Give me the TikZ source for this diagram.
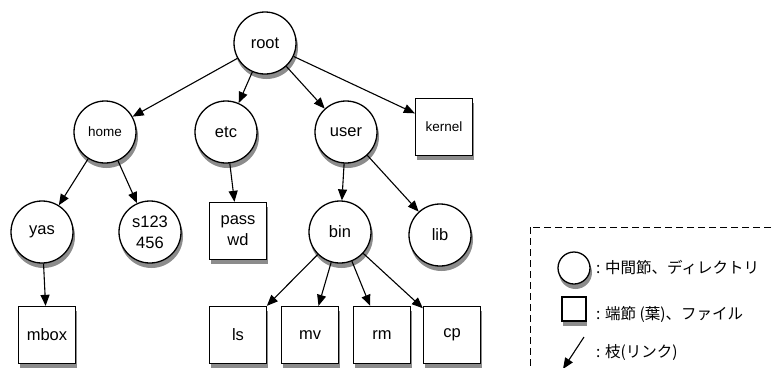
\documentclass[tikz,border=0pt]{standalone}
\usepackage{fontspec}
\setmainfont{Liberation Sans}
\newfontfamily\jpfont{Noto Sans CJK JP}
\usetikzlibrary{arrows.meta, backgrounds}

\tikzset{
  dirnode/.style={circle, draw, line width=1.3pt, fill=white, minimum size=62pt,
    inner sep=0pt, align=center, font=\fontsize{16.5}{21}\selectfont},
  filenode/.style={rectangle, draw, line width=1.3pt, fill=white, minimum size=57pt,
    inner sep=0pt, align=center, font=\fontsize{16.5}{21}\selectfont},
  smalltext/.style={font=\fontsize{13.5}{16}\selectfont},
  shadowfill/.style={fill=black!45, draw=none},
  link/.style={-{Triangle[length=11pt,width=9pt]}, line width=1.1pt},
  legendtext/.style={anchor=west, inner sep=0pt, font=\jpfont\fontsize{15.5}{18}\selectfont},
}

\begin{document}
\begin{tikzpicture}[x=1pt, y=-1pt]
  \useasboundingbox (0,0) rectangle (775,367);

  % shadows first, so the nodes cover them
  \foreach \x/\y in {265/43, 105/132, 226/132, 346/132, 42/232, 150/232, 340/232, 440/235}
    \fill[shadowfill] (\x+1.5,\y+4.5) circle (31.5pt);
  \fill[shadowfill] (575.5,272.5) circle (16.5pt);
  \foreach \x/\y in {444/127, 238/231, 47/335, 238/335, 310/335, 382/335, 452/335}
    \fill[shadowfill] (\x-27,\y-24) rectangle (\x+30,\y+33);
  \fill[shadowfill] (563,298) rectangle (587,326);

  % directories
  \node[dirnode] (root) at (265,43) {root};
  \node[dirnode, smalltext] (home) at (105,132) {home};
  \node[dirnode] (etc)  at (226,132) {etc};
  \node[dirnode] (user) at (346,132) {user};
  \node[dirnode] (yas)  at (42,232) {yas};
  \node[dirnode] (s123) at (150,232) {s123\\456};
  \node[dirnode] (bin)  at (340,232) {bin};
  \node[dirnode] (lib)  at (440,235) {lib};

  % files
  \node[filenode, smalltext] (kernel) at (444,127) {kernel};
  \node[filenode] (passwd) at (238,231) {pass\\wd};
  \node[filenode] (mbox) at (47,335) {mbox};
  \node[filenode] (ls) at (238,335) {ls};
  \node[filenode] (mv) at (310,335) {mv};
  \node[filenode] (rm) at (382,335) {rm};
  \node[filenode] (cp) at (452,335) {cp};

  % links
  \draw[link] (root) -- (home);
  \draw[link] (root) -- (etc);
  \draw[link] (root) -- (user);
  \draw[link] (root) -- (kernel);
  \draw[link] (home) -- (yas);
  \draw[link] (home) -- (s123);
  \draw[link] (etc) -- (passwd);
  \draw[link] (user) -- (bin);
  \draw[link] (user) -- (lib);
  \draw[link] (yas) -- (mbox);
  \draw[link] (bin) -- (ls);
  \draw[link] (bin) -- (mv);
  \draw[link] (bin) -- (rm);
  \draw[link] (bin) -- (cp);

  % legend
  \draw[dash pattern=on 7pt off 4pt, line width=1pt] (530,227) rectangle (790,390);
  \node[dirnode, minimum size=32pt] (legdir) at (574,268) {};
  \node[legendtext] (legdirtext) at (596,268) {: 中間節、ディレクトリ};
  \node[filenode, minimum size=24pt] (legfile) at (574,309) {};
  \node[legendtext] (legfiletext) at (596,314) {: 端節 (葉)、ファイル};
  \coordinate (legfrom) at (584,337);
  \coordinate (legto) at (563,369);
  \draw[link] (legfrom) -- (legto);
  \node[legendtext] (leglinktext) at (596,353) {: 枝(リンク)};
\end{tikzpicture}
\end{document}
